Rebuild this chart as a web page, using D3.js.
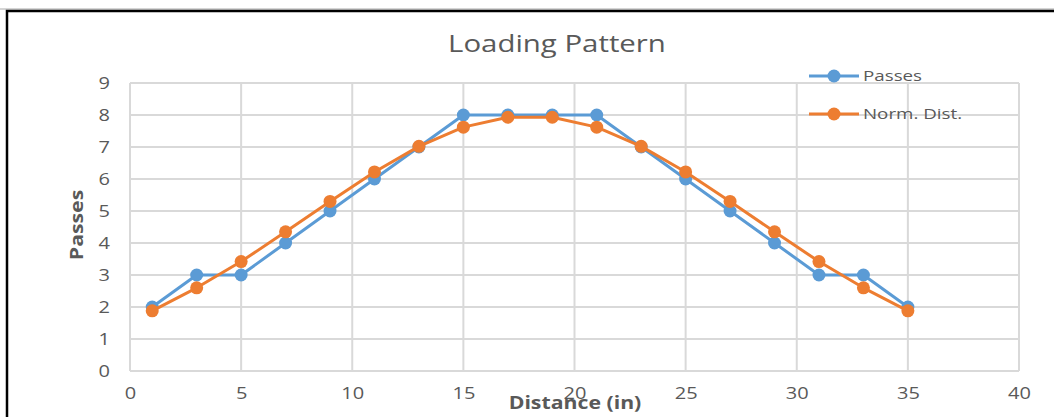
<!DOCTYPE html>
<html>
<head>
<meta charset="utf-8">
<script src="https://cdn.jsdelivr.net/npm/d3@7"></script>
<style>
  body { margin: 0; background: #fff; }
  text { font-family: "Open Sans", sans-serif; }
</style>
</head>
<body>
<div id="chart"></div>
<script>
// data
const distance = [1, 3, 5, 7, 9, 11, 13, 15, 17, 19, 21, 23, 25, 27, 29, 31, 33, 35]
const passes = [2, 3, 3, 4, 5, 6, 7, 8, 8, 8, 8, 7, 6, 5, 4, 3, 3, 2]
const normDist = [1.88, 2.6, 3.42, 4.35, 5.3, 6.22, 7.02, 7.62, 7.93, 7.93, 7.62, 7.02, 6.22, 5.3, 4.35, 3.42, 2.6, 1.88]
const xTicks = [0, 5, 10, 15, 20, 25, 30, 35, 40]
const yTicks = [0, 1, 2, 3, 4, 5, 6, 7, 8, 9]
const seriesNames = ["Passes", "Norm. Dist."]
const colours = ["#5b9bd5", "#ed7d31"]

let width = 1054, height = 417
// the source image is a bit stretched sideways, so widen the text to match
let stretch = 1.25

let svg = d3.select("#chart").append("svg")
    .attr("width", width)
    .attr("height", height)

// frame round the chart
svg.append("line")
    .attr("x1", 0).attr("y1", 9).attr("x2", width).attr("y2", 9)
    .attr("stroke", "#aaa").attr("stroke-width", 1)
svg.append("path")
    .attr("d", `M7,${height} V11 H${width}`)
    .attr("fill", "none")
    .attr("stroke", "#000")
    .attr("stroke-width", 2.5)

// scales
let x = d3.scaleLinear().domain([0, 40]).range([130, 1019])
let y = d3.scaleLinear().domain([0, 9]).range([371, 83])

// gridlines
let grid = svg.append("g").attr("id", "grid")
grid.selectAll(".vgrid")
    .data(xTicks)
    .enter()
    .append("line")
    .attr("x1", d => x(d)).attr("x2", d => x(d))
    .attr("y1", y(9)).attr("y2", y(0))
    .attr("stroke", "#d9d9d9")
    .attr("stroke-width", 2)
grid.selectAll(".hgrid")
    .data(yTicks)
    .enter()
    .append("line")
    .attr("x1", x(0)).attr("x2", x(40))
    .attr("y1", d => y(d)).attr("y2", d => y(d))
    .attr("stroke", "#d9d9d9")
    .attr("stroke-width", 2)

// axes (labels only, Excel style)
let xAxis = d3.axisBottom(x).tickValues(xTicks).tickSize(0).tickPadding(17)
let yAxis = d3.axisLeft(y).tickValues(yTicks).tickSize(0).tickPadding(20)

svg.append("g")
    .attr("transform", `translate(0, ${y(0)})`)
    .call(xAxis)
    .call(g => g.select(".domain").remove())
    .selectAll("text")
    .style("font-family", "'Open Sans', sans-serif")
    .style("font-size", "16px")
    .attr("fill", "#595959")

svg.append("g")
    .attr("transform", `translate(${x(0)}, 0)`)
    .call(yAxis)
    .call(g => g.select(".domain").remove())
    .selectAll("text")
    .style("font-family", "'Open Sans', sans-serif")
    .style("font-size", "16px")
    .attr("fill", "#595959")

// series
let series = [passes, normDist]
let line = d3.line()
    .x((d, i) => x(distance[i]))
    .y(d => y(d))

series.forEach((vals, s) => {
    svg.append("path")
        .datum(vals)
        .attr("d", line)
        .attr("fill", "none")
        .attr("stroke", colours[s])
        .attr("stroke-width", 3)
        .attr("stroke-linejoin", "round")

    svg.append("g")
        .selectAll("circle")
        .data(vals)
        .enter()
        .append("circle")
        .attr("cx", (d, i) => x(distance[i]))
        .attr("cy", d => y(d))
        .attr("r", 6.5)
        .attr("fill", colours[s])
})

// title
svg.append("text")
    .text("Loading Pattern")
    .attr("x", 557)
    .attr("y", 52)
    .attr("text-anchor", "middle")
    .style("font-size", "23.5px")
    .attr("fill", "#595959")

// axis titles
svg.append("text")
    .text("Distance (in)")
    .attr("x", 575)
    .attr("y", 409)
    .attr("text-anchor", "middle")
    .style("font-size", "17px")
    .style("font-weight", "bold")
    .attr("fill", "#595959")

svg.append("text")
    .text("Passes")
    .attr("transform", "translate(83, 225) rotate(-90)")
    .attr("text-anchor", "middle")
    .style("font-size", "17px")
    .style("font-weight", "bold")
    .attr("fill", "#595959")

// legend
let legend = svg.append("g").attr("id", "legend")
seriesNames.forEach((name, i) => {
    let ly = 76 + i * 38
    legend.append("line")
        .attr("x1", 809).attr("x2", 859)
        .attr("y1", ly).attr("y2", ly)
        .attr("stroke", colours[i])
        .attr("stroke-width", 3)
    legend.append("circle")
        .attr("cx", 834).attr("cy", ly)
        .attr("r", 6.5)
        .attr("fill", colours[i])
    legend.append("text")
        .text(name)
        .attr("x", 863)
        .attr("y", ly + 5)
        .style("font-size", "15px")
        .attr("fill", "#595959")
})

// widen every text by the same factor
svg.selectAll("text").each(function() {
    let w = this.getComputedTextLength()
    d3.select(this)
        .attr("textLength", w * stretch)
        .attr("lengthAdjust", "spacingAndGlyphs")
})
</script>
</body>
</html>
